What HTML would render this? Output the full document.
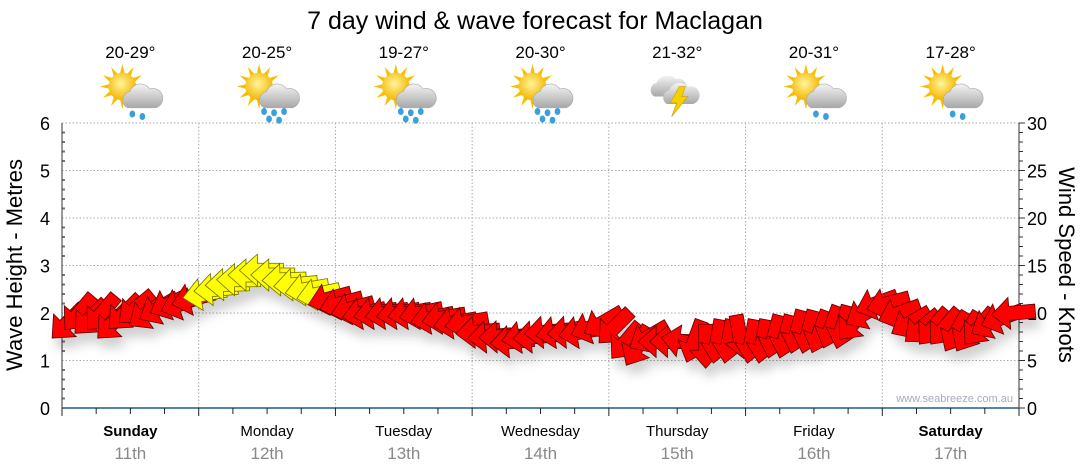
<!DOCTYPE html>
<html><head><meta charset="utf-8">
<style>
html,body{margin:0;padding:0;background:#fff;}
svg{display:block;font-family:"Liberation Sans",sans-serif;}
</style></head>
<body>
<svg id="chart" width="1080" height="475" viewBox="0 0 1080 475" xmlns="http://www.w3.org/2000/svg">
<defs>
<filter id="sh" x="-50%" y="-50%" width="200%" height="250%"><feDropShadow dx="4" dy="10" stdDeviation="5" flood-color="#000" flood-opacity="0.18"/></filter>
<radialGradient id="sun" cx="0.45" cy="0.4" r="0.6"><stop offset="0" stop-color="#fff59a"/><stop offset="1" stop-color="#f5b400"/></radialGradient>
<linearGradient id="cloud" x1="0" y1="0" x2="0" y2="1"><stop offset="0" stop-color="#f4f4f4"/><stop offset="1" stop-color="#a8a8a8"/></linearGradient>
</defs>
<text x="535" y="29" font-size="25" text-anchor="middle" fill="#000">7 day wind &amp; wave forecast for Maclagan</text>
<g id="grid"></g>
<g id="axes"></g>
<g id="icons"></g>
<g id="arrows" filter="url(#sh)"></g>
<text x="1013" y="402" font-size="11" text-anchor="end" fill="#aab">www.seabreeze.com.au</text>
<text transform="translate(22,265) rotate(-90)" font-size="22" text-anchor="middle">Wave Height - Metres</text>
<text transform="translate(1059,265) rotate(90)" font-size="22" text-anchor="middle">Wind Speed - Knots</text>
</svg>
<script>
const days = ["Sunday","Monday","Tuesday","Wednesday","Thursday","Friday","Saturday"];
const dates = ["11th","12th","13th","14th","15th","16th","17th"];
const boldDays = [true,false,false,false,false,false,true];
const temps = ["20-29°","20-25°","19-27°","20-30°","21-32°","20-31°","17-28°"];
const weather = ["sun-shower","sun-rain","sun-rain","sun-rain","storm","sun-shower","sun-shower"];
const waveTicks = [0,1,2,3,4,5,6];
const windTicks = [0,5,10,15,20,25,30];
// wind, 2-hourly (12 per day)
const windSpeed = [
 9,10,9.5,10,9,10,10.5,10,10.5,11,11,11.5,
 12,12.5,13,13.5,14,14.5,14,13.5,13,12.5,12,11.5,
 11,10.5,10,10,10,10,10,10,9.5,9.5,9,9,
 8,7.5,7.5,7,7.5,7.5,8,8,8,8,8.5,9,
 8.5,7,6.5,7.5,7,7,7,7,6.5,7,7,7.5,
 7,7,7.5,7.5,8,8,8,8.5,8.5,9,10,11,
 11,10,9,8.5,8.5,8.5,8,8,8.5,9,9.5,10];
const windDir = [
 45,40,45,40,45,45,50,55,60,65,70,75,
 80,85,88,90,90,90,90,88,85,80,78,75,
 75,75,78,80,80,80,80,78,78,80,80,80,
 85,85,88,85,80,85,85,80,85,80,70,60,
 45,40,30,60,90,90,100,20,0,10,10,350,
 10,10,15,15,15,15,20,20,15,40,60,70,
 75,70,60,50,40,40,30,30,40,60,70,85];

const NS="http://www.w3.org/2000/svg";
const X0=62,X1=1019,Y0=408,Y1=123;
const dayW=(X1-X0)/7;
const xT=h=>X0+h/168*(X1-X0);
const yM=m=>Y0-m/6*(Y0-Y1);
const yK=k=>Y0-k/30*(Y0-Y1);
function el(tag,attrs,parent,txt){const e=document.createElementNS(NS,tag);for(const k in attrs)e.setAttribute(k,attrs[k]);if(txt!==undefined)e.textContent=txt;parent.appendChild(e);return e;}
const grid=document.getElementById('grid'),axes=document.getElementById('axes'),icons=document.getElementById('icons'),arrows=document.getElementById('arrows');

waveTicks.forEach(m=>{
 if(m>0){const g=el('line',{x1:X0,x2:X1,y1:yM(m),y2:yM(m),stroke:'#aaa','stroke-dasharray':'1.5,2'},grid);
 
 }
 const t=el('text',{x:50,y:yM(m)+7,'font-size':18,'text-anchor':'end'},axes,m);
 
 
});
windTicks.forEach(k=>{
 const t=el('text',{x:1027,y:yK(k)+7,'font-size':18},axes,k);
 
 
});
for(let i=0;i<=30;i++){const y=yK(i);const major=i%5==0;el('line',{x1:X1,x2:X1+(major?6:4),y1:y,y2:y,stroke:'#333'},axes);}
for(let i=0;i<=30;i++){const y=yM(i/5);el('line',{x1:X0,x2:X0+(i%5==0?0:3),y1:y,y2:y,stroke:'#777','stroke-width':2},axes);}
el('line',{x1:X0,x2:X0,y1:Y1,y2:Y0,stroke:'#333'},axes);
el('line',{x1:X1,x2:X1,y1:Y1,y2:Y0,stroke:'#333'},axes);
el('line',{x1:X0,x2:X1,y1:Y0,y2:Y0,stroke:'#1a5f8a','stroke-width':1.5},axes);
for(let h=0;h<=168;h+=6){const x=xT(h);el('line',{x1:x,x2:x,y1:Y0,y2:Y0+(h%24==0?8:6),stroke:'#222'},axes);}

days.forEach((d,i)=>{
 const x=xT(i*24),cx=x+dayW/2;
 if(i>0){const g=el('line',{x1:x,x2:x,y1:Y1,y2:Y0,stroke:'#aaa','stroke-dasharray':'1.5,2'},grid);
 
 }
 const a=el('text',{x:cx,y:436,'font-size':15,'text-anchor':'middle','font-weight':boldDays[i]?'bold':'normal'},axes,d);
 
 
 const b=el('text',{x:cx,y:459,'font-size':17,'text-anchor':'middle',fill:'#888'},axes,dates[i]);
 
 
 const t=el('text',{x:cx,y:58,'font-size':17,'text-anchor':'middle'},icons,temps[i]);
 
 
 const g=el('g',{transform:`translate(${cx+2},94) scale(1.25)`},icons);
 
 
 const w=weather[i];
 if(w!=='storm'){
  for(let r=0;r<12;r++){const an=r*30*Math.PI/180;el('polygon',{points:`${-8+Math.cos(an)*18},${-6+Math.sin(an)*18} ${-8+Math.cos(an+0.2)*10},${-6+Math.sin(an+0.2)*10} ${-8+Math.cos(an-0.2)*10},${-6+Math.sin(an-0.2)*10}`,fill:'#f5c000'},g);}
  el('circle',{cx:-8,cy:-6,r:11,fill:'url(#sun)'},g);
  el('path',{d:'M-4,11 a7,7 0 0 1 2,-13 a9,9 0 0 1 16,-2 a7,7 0 0 1 5,15 z',fill:'url(#cloud)',stroke:'#aaa','stroke-width':0.5},g);
  const drops=w==='sun-shower'?[[0,16],[8,18]]:[[-4,14],[4,15],[12,14],[0,20],[8,21]];
  drops.forEach(p=>el('ellipse',{cx:p[0],cy:p[1],rx:2.3,ry:2.8,fill:'#3aa0dd'},g));
 } else {
  el('path',{d:'M-20,2 a6,6 0 0 1 2,-11 a9,9 0 0 1 15,-3 a6,6 0 0 1 4,14 z',fill:'url(#cloud)'},g);
  el('path',{d:'M-10,8 a6,6 0 0 1 2,-11 a9,9 0 0 1 15,-3 a6,6 0 0 1 4,14 z',fill:'url(#cloud)'},g);
  el('polygon',{points:'0,-6 -7,7 -2,7 -6,18 7,2 2,2 5,-6',fill:'#f5d000',stroke:'#d0a000','stroke-width':0.5},g);
 }
});

windSpeed.forEach((s,i)=>{
 const h=i*2+1;
 const cx=xT(h),cy=yK(s);
 const b=(windDir[i]+180)*Math.PI/180;
 const ang=Math.atan2(-Math.cos(b),Math.sin(b))*180/Math.PI;
 const p=el('polygon',{points:'22,0 4,-16 4,-7 -22,-7 -22,7 4,7 4,16',transform:`translate(${cx},${cy}) rotate(${ang})`,fill:s>=12?'#ffff00':'#ff0000',stroke:s>=12?'#6b6b00':'#5a0000','stroke-width':0.8},arrows);
 
 
});
</script>
</body></html>
